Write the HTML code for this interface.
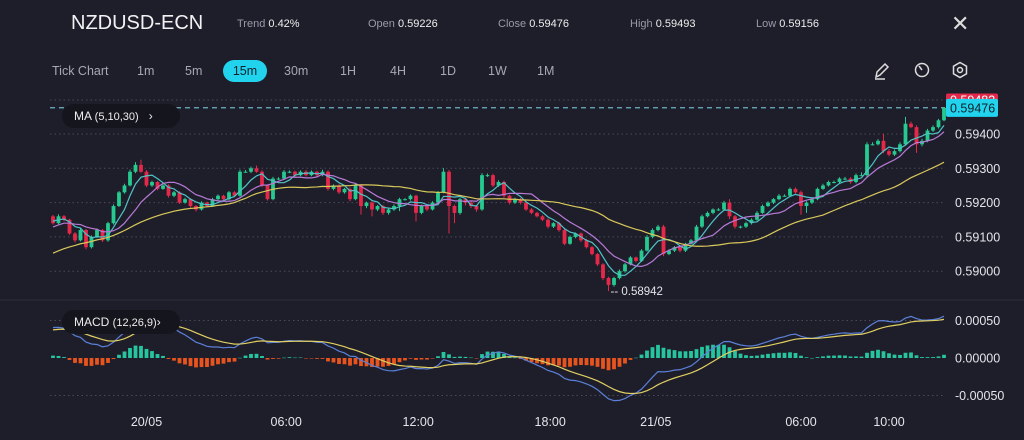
<!DOCTYPE html>
<html><head><meta charset="utf-8"><style>
html,body{margin:0;padding:0;background:#1e1e2a;}
body{width:1024px;height:440px;overflow:hidden;font-family:"Liberation Sans",sans-serif;color:#e8e8ee;position:relative}
.hd{position:absolute;font-size:11px;color:#9a9aa8;top:18px}
.hd b{color:#eee;font-weight:normal}
.tf{position:absolute;top:64px;font-size:12.5px;color:#a8a8b4}
</style></head><body>
<div style="position:absolute;left:71px;top:12px;font-size:20px;color:#f2f2f4">NZDUSD-ECN</div>
<div class="hd" style="left:237px">Trend <b>0.42%</b></div>
<div class="hd" style="left:368px">Open <b>0.59226</b></div>
<div class="hd" style="left:498px">Close <b>0.59476</b></div>
<div class="hd" style="left:630px">High <b>0.59493</b></div>
<div class="hd" style="left:756px">Low <b>0.59156</b></div>
<div style="position:absolute;left:951px;top:11px;font-size:22px;color:#ddd">✕</div>
<div class="tf" style="left:52px">Tick Chart</div>
<div class="tf" style="left:137px">1m</div>
<div class="tf" style="left:185px">5m</div>
<div style="position:absolute;left:223px;top:60px;width:44px;height:22px;border-radius:11px;background:#22d3ee;color:#10202a;font-size:12.5px;text-align:center;line-height:22px">15m</div>
<div class="tf" style="left:284px">30m</div>
<div class="tf" style="left:340px">1H</div>
<div class="tf" style="left:390px">4H</div>
<div class="tf" style="left:440px">1D</div>
<div class="tf" style="left:488px">1W</div>
<div class="tf" style="left:537px">1M</div>
<svg style="position:absolute;left:873px;top:61px" width="100" height="20">
<g stroke="#ddd" fill="none" stroke-width="1.5"><path d="M3 16 L4 11 L12 3 L15 6 L7 14 Z M2 18 H12"/></g>
<g stroke="#ddd" fill="none" stroke-width="1.5"><circle cx="49" cy="9" r="6.5"/><path d="M49 9 L46 5"/></g>
<g stroke="#ddd" fill="none" stroke-width="1.5"><path d="M87 1.5 L93.5 5.2 V12.8 L87 16.5 L80.5 12.8 V5.2 Z"/><circle cx="87" cy="9" r="2.5"/></g>
</svg>
<svg id="chart" width="1024" height="440" style="position:absolute;left:0;top:0"></svg>
<div style="position:absolute;left:62px;top:104px;width:118px;height:24px;border-radius:12px;background:#15151e;font-size:12px;line-height:24px;color:#eee;text-indent:12px">MA <span style="font-size:11px">(5,10,30)</span> &nbsp;&nbsp;›</div>
<div style="position:absolute;left:62px;top:310px;width:118px;height:24px;border-radius:12px;background:#15151e;font-size:12px;line-height:24px;color:#eee;text-indent:12px">MACD <span style="font-size:11px">(12,26,9)</span>›</div>
<script>
const preCloses=[0.5896,0.5896,0.5896,0.5896,0.5896,0.5896,0.5896,0.5896,0.5896,0.5896,0.5896,0.5896,0.5896,0.5896,0.5896,0.5897,0.5898,0.5898,0.5899,0.5900,0.5901,0.5902,0.5902,0.5903,0.5904,0.5905,0.5906,0.5906,0.5907,0.5908,0.5909,0.5910,0.5910,0.5911,0.5912,0.5913,0.5914,0.5914,0.5915,0.5916];
const closes=[0.5914,0.5916,0.5915,0.5911,0.5909,0.5912,0.5907,0.5910,0.5912,0.5909,0.5914,0.5919,0.5923,0.5925,0.5929,0.5931,0.5929,0.5925,0.5926,0.5924,
0.5925,0.5922,0.5923,0.5920,0.5921,0.5919,0.5918,0.5920,0.5919,0.5921,0.5922,0.5921,0.5923,0.5922,0.5929,0.5929,0.5930,0.5929,0.5925,0.5921,
0.5927,0.5927,0.5929,0.5929,0.5928,0.5929,0.5928,0.5929,0.5928,0.5929,0.5924,0.5925,0.5923,0.5924,0.5921,0.5925,0.5919,0.5920,0.5918,0.5919,
0.5917,0.5918,0.5919,0.5921,0.5921,0.5922,0.5917,0.5919,0.5918,0.5920,0.5923,0.5929,0.5919,0.5917,0.5921,0.5920,0.5919,0.5918,0.5928,0.5928,
0.5925,0.5926,0.5922,0.5920,0.5921,0.5920,0.5918,0.5917,0.5916,0.5915,0.5913,0.5914,0.5912,0.5908,0.5910,0.5911,0.5909,0.5907,0.5905,0.5902,
0.5898,0.5896,0.5898,0.5900,0.5902,0.5904,0.5903,0.5906,0.5910,0.5912,0.5913,0.5905,0.5906,0.5907,0.5906,0.5908,0.5909,0.5913,0.5916,0.5917,
0.5918,0.5918,0.5920,0.5916,0.5913,0.5913,0.5914,0.5915,0.5917,0.5919,0.5920,0.5921,0.5922,0.5922,0.5924,0.5923,0.5919,0.5920,0.5921,0.5924,
0.5925,0.5926,0.5926,0.5927,0.5927,0.5926,0.5928,0.5928,0.5937,0.5937,0.5938,0.5935,0.5934,0.5935,0.5937,0.5943,0.5942,0.5937,0.5938,0.5941,
0.5942,0.5944,0.59476];
const wickHi=[4,6,4,3,4,5,3,4,5,3,4,5,4,5,6,8,15,5,4,3,4,3,4,3,4,3,3,4,3,4,4,3,4,3,6,5,5,8,4,3,5,4,5,4,3,4,5,4,3,6,4,3,4,3,4,6,4,3,4,3,3,4,5,4,3,4,3,4,3,4,4,10,5,4,4,3,4,3,6,5,4,5,4,3,4,3,3,4,3,3,4,3,4,3,4,3,3,4,3,3,3,4,4,5,4,4,3,4,5,5,5,5,4,3,4,3,4,5,5,4,3,4,5,10,4,3,4,4,5,4,4,3,5,4,4,4,5,4,4,4,5,4,4,4,5,4,5,8,6,6,5,20,6,5,6,20,6,5,6,5,5,4,2];
const wickLo=[4,3,5,4,6,3,6,4,3,5,4,4,3,4,3,4,3,5,4,4,3,5,4,4,3,5,6,3,4,3,4,4,3,4,3,3,4,3,5,4,3,4,3,4,4,3,4,3,4,3,5,4,5,4,6,3,25,6,20,5,6,5,4,15,4,4,25,4,5,3,4,3,80,30,5,8,6,7,4,5,5,4,6,5,4,5,4,4,3,4,5,4,5,4,3,4,5,4,4,5,6,18,5,4,4,3,4,3,3,4,4,6,3,4,5,4,3,3,4,3,4,4,4,8,6,5,4,4,3,3,3,4,3,3,4,4,25,20,4,3,3,3,4,3,4,5,4,3,4,3,3,6,5,4,4,4,3,25,6,4,4,4,3];
const priceTicks=[0.59400,0.59300,0.59200,0.59100,0.59000];
const macdTicks=[0.0005,0,-0.0005];
const timeLabels=["20/05","06:00","12:00","18:00","21/05","06:00","10:00"];
const timeIdx=[17,42.4,66.4,90.4,109.6,136,152];

const svg=document.getElementById('chart');
const NS='http://www.w3.org/2000/svg';
const X=i=>53+i*5.5;
const Y=p=>134+(0.594-p)*34300;
const YM=v=>358-v*75000;
function mk(tag,attrs,parent){const e=document.createElementNS(NS,tag);for(const k in attrs)e.setAttribute(k,attrs[k]);(parent||svg).appendChild(e);return e;}

priceTicks.forEach(p=>{
 const l=mk('line',{x1:50,x2:945,y1:Y(p),y2:Y(p),stroke:'#4a4a58','stroke-dasharray':'1.5 3','stroke-width':1});
 
 
 const t=mk('text',{x:955,y:Y(p)+4.5,fill:'#e4e4ea','font-size':12.5,'font-family':'Liberation Sans, sans-serif'});
 t.textContent=p.toFixed(5);
 
 
});
let tl=mk('line',{x1:50,x2:945,y1:100,y2:100,stroke:'#4a4a58','stroke-dasharray':'1.5 3'});


macdTicks.forEach(v=>{
 if(v!==0){const l=mk('line',{x1:50,x2:945,y1:YM(v),y2:YM(v),stroke:'#4a4a58','stroke-dasharray':'1.5 3'});
 
 }
 const t=mk('text',{x:955,y:YM(v)+4.5,fill:'#e4e4ea','font-size':12.5,'font-family':'Liberation Sans, sans-serif'});
 t.textContent=(v<0?'-':'')+Math.abs(v).toFixed(5);
 
 
});
let dv=mk('line',{x1:0,x2:1024,y1:300,y2:300,stroke:'#2c2c38'});


timeLabels.forEach((s,k)=>{
 const t=mk('text',{x:X(timeIdx[k]),y:426,fill:'#e4e4ea','font-size':12.5,'text-anchor':'middle','font-family':'Liberation Sans, sans-serif'});
 t.textContent=s;
 
 
});

const hiP=0.59483,lastP=closes[closes.length-1];
let d1=mk('line',{x1:50,x2:945,y1:Y(hiP)+2,y2:Y(hiP)+2,stroke:'#e0486a','stroke-dasharray':'5 4'});


let d2=mk('line',{x1:50,x2:945,y1:Y(lastP),y2:Y(lastP),stroke:'#36c9d6','stroke-dasharray':'5 4'});


let r1=mk('rect',{x:946,y:Y(hiP)-12,width:52,height:14,fill:'#e5284a',rx:2});


let t1=mk('text',{x:950,y:Y(hiP)-1,fill:'#fff','font-size':12.5,'font-family':'Liberation Sans, sans-serif'});t1.textContent=hiP.toFixed(5);


let r2=mk('rect',{x:946,y:Y(lastP)-9,width:52,height:18,fill:'#22d3ee',rx:2});


let t2=mk('text',{x:950,y:Y(lastP)+4.5,fill:'#10202a','font-size':12.5,'font-family':'Liberation Sans, sans-serif'});t2.textContent=lastP.toFixed(5);



const all=preCloses.concat(closes);const P=preCloses.length;
closes.forEach((c,i)=>{
 const o=i===0?preCloses[P-1]:closes[i-1];
 const hi=Math.max(o,c)+wickHi[i]*1e-5, lo=Math.min(o,c)-wickLo[i]*1e-5;
 const col=c>=o?'#26c98f':'#e5284a';
 const w=mk('line',{x1:X(i),x2:X(i),y1:Y(hi),y2:Y(lo),stroke:col,'stroke-width':1});
 
 
 const b=mk('rect',{x:X(i)-1.9,y:Y(Math.max(o,c)),width:3.8,height:Math.max(1,Math.abs(Y(o)-Y(c))),fill:col});
 
 
});
let minV=1,minI=0;
closes.forEach((c,i)=>{const o=i===0?preCloses[P-1]:closes[i-1];const lo=Math.min(o,c)-wickLo[i]*1e-5;if(lo<minV){minV=lo;minI=i;}});
let ml=mk('text',{x:X(minI)+2,y:Y(minV)+4,fill:'#e4e4ea','font-size':11.5,'font-family':'Liberation Sans, sans-serif'});
ml.textContent='-- '+minV.toFixed(5);



function sma(n){return closes.map((c,i)=>{let s=0;for(let k=0;k<n;k++)s+=all[P+i-k];return s/n;});}
[[5,'#4fc3c8'],[10,'#b77ad6'],[30,'#d8c85a']].forEach(([n,col])=>{
 const m=sma(n);
 const p=mk('path',{d:m.map((v,i)=>(i?'L':'M')+X(i)+' '+Y(v)).join(''),fill:'none',stroke:col,'stroke-width':1.2});
 
 
});

function ema(arr,n){const k=2/(n+1);let e=arr[0];return arr.map(v=>e=v*k+e*(1-k));}
const e12=ema(all,12),e26=ema(all,26);
const macd=all.map((v,i)=>e12[i]-e26[i]);
const sig=ema(macd,9);
closes.forEach((c,i)=>{
 const h=macd[P+i]-sig[P+i];
 const r=mk('rect',{x:X(i)-1.9,y:Math.min(YM(0),YM(h)),width:3.8,height:Math.max(0.5,Math.abs(YM(h)-YM(0))),fill:h>=0?'#26c49f':'#e8541e'});
 
 
});
const mp=mk('path',{d:closes.map((c,i)=>(i?'L':'M')+X(i)+' '+YM(macd[P+i])).join(''),fill:'none',stroke:'#5b80d8','stroke-width':1.2});


const sp=mk('path',{d:closes.map((c,i)=>(i?'L':'M')+X(i)+' '+YM(sig[P+i])).join(''),fill:'none',stroke:'#e0cf62','stroke-width':1.2});


</script>
</body></html>
